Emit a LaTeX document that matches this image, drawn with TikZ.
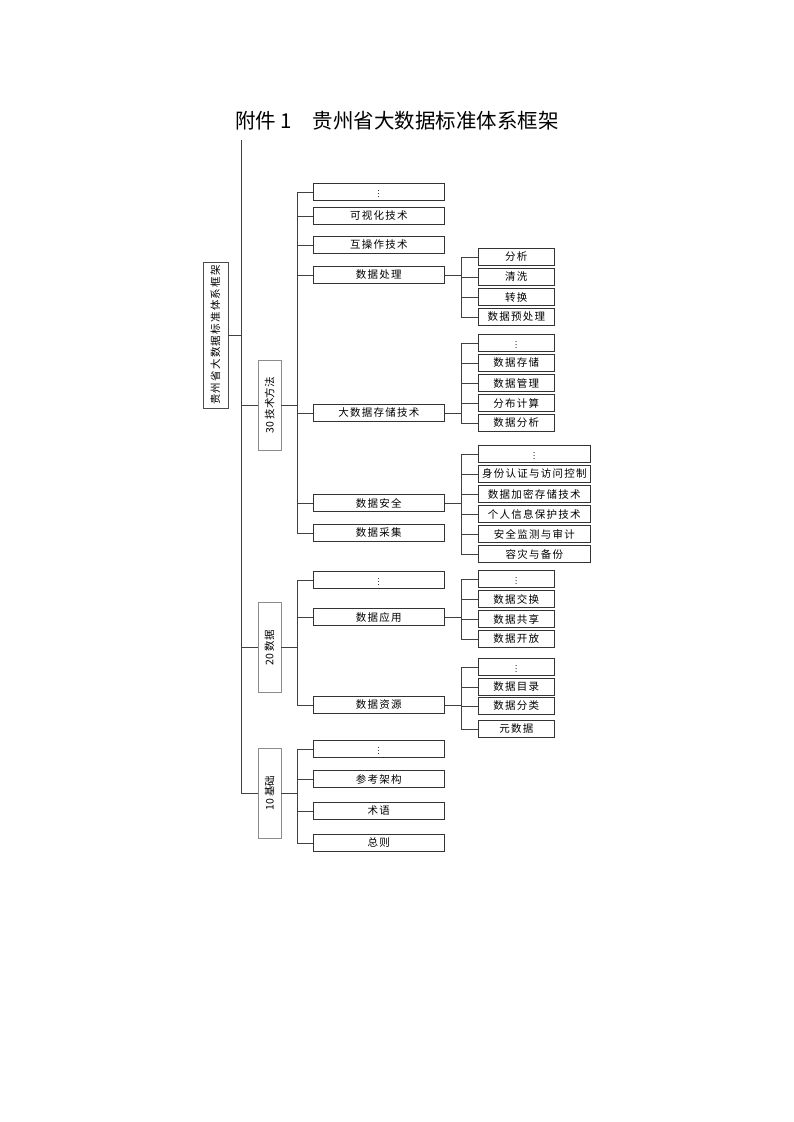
\documentclass[tikz,border=0pt]{standalone}
\usepackage{fontspec}
\setmainfont{Liberation Serif}
\newfontfamily\cjk{Noto Sans CJK SC}
\newfontfamily\cjks[LetterSpace=12]{Noto Sans CJK SC}
\usepackage{graphicx}
\begin{document}
\begin{tikzpicture}[x=1pt,y=-1pt,line width=0.6pt,
  every node/.style={font=\cjks\fontsize{10.5}{12}\selectfont,inner sep=0pt},
  bx/.style={draw=black!80,fill=white,minimum height=17pt},
  ltwo/.style={bx,minimum width=131pt,anchor=west},
  lthree/.style={bx,minimum width=76pt,anchor=west},
  lthreew/.style={bx,minimum width=112pt,anchor=west},
  lone/.style={draw=black!45,minimum width=23pt,minimum height=90pt,font=\cjk\fontsize{10.5}{12}\selectfont},
  ln/.style={draw=black!75},
]
\useasboundingbox (0,0) rectangle (793,1122);
\newcommand{\vd}{\scalebox{0.75}{$\vdots$}}

% title
\node[font=\cjk\fontsize{20.5}{24}\selectfont] (title) at (397,121) {附件 1\quad 贵州省大数据标准体系框架};

% root
\node[draw=black!70,minimum width=25pt,minimum height=146pt] (root) at (215.5,335)
  {\rotatebox{90}{贵州省大数据标准体系框架}};

% main vertical line
\coordinate (mtop) at (241,140);
\coordinate (mbot) at (241,793);
\draw[ln] (mtop) -- (mbot);
\draw[ln] (root.east) -- (root.east -| mtop);

% level 1
\node[lone] (t30) at (269.5,405) {\rotatebox{90}{30\ 技术方法}};
\node[lone] (d20) at (269.5,647.5) {\rotatebox{90}{20\ 数据}};
\node[lone] (j10) at (269.5,793) {\rotatebox{90}{10\ 基础}};
\foreach \n in {t30,d20,j10} \draw[ln] (\n.west -| mtop) -- (\n.west);

% buses for level 2
\coordinate (bta) at (297,192); \coordinate (btb) at (297,533);
\coordinate (bda) at (297,580); \coordinate (bdb) at (297,705);
\coordinate (bja) at (297,749); \coordinate (bjb) at (297,843);
\draw[ln] (bta) -- (btb);
\draw[ln] (bda) -- (bdb);
\draw[ln] (bja) -- (bjb);
\draw[ln] (t30.east) -- (t30.east -| bta);
\draw[ln] (d20.east) -- (d20.east -| bda);
\draw[ln] (j10.east) -- (j10.east -| bja);

% level 2: technology
\node[ltwo] (ta) at (313,192) {\vd};
\node[ltwo] (tb) at (313,216) {可视化技术};
\node[ltwo] (tc) at (313,245) {互操作技术};
\node[ltwo] (td) at (313,275) {数据处理};
\node[ltwo] (te) at (313,413) {大数据存储技术};
\node[ltwo] (tf) at (313,503) {数据安全};
\node[ltwo] (tg) at (313,533) {数据采集};
\foreach \n in {ta,tb,tc,td,te,tf,tg} \draw[ln] (\n.west -| bta) -- (\n.west);

% level 2: data
\node[ltwo] (da) at (313,580) {\vd};
\node[ltwo] (db) at (313,617) {数据应用};
\node[ltwo] (dc) at (313,705) {数据资源};
\foreach \n in {da,db,dc} \draw[ln] (\n.west -| bda) -- (\n.west);

% level 2: basics
\node[ltwo] (ja) at (313,749) {\vd};
\node[ltwo] (jb) at (313,779) {参考架构};
\node[ltwo] (jc) at (313,811) {术语};
\node[ltwo] (jd) at (313,843) {总则};
\foreach \n in {ja,jb,jc,jd} \draw[ln] (\n.west -| bja) -- (\n.west);

% level 3 under 数据处理
\coordinate (pa) at (461,257); \coordinate (pb) at (461,317);
\draw[ln] (pa) -- (pb);
\draw[ln] (td.east) -- (td.east -| pa);
\node[lthree] (p1) at (478,257) {分析};
\node[lthree] (p2) at (478,277) {清洗};
\node[lthree] (p3) at (478,297) {转换};
\node[lthree] (p4) at (478,317) {数据预处理};
\foreach \n in {p1,p2,p3,p4} \draw[ln] (\n.west -| pa) -- (\n.west);

% level 3 under 大数据存储技术
\coordinate (sa) at (461,343); \coordinate (sb) at (461,423);
\draw[ln] (sa) -- (sb);
\draw[ln] (te.east) -- (te.east -| sa);
\node[lthree] (s1) at (478,343) {\vd};
\node[lthree] (s2) at (478,363) {数据存储};
\node[lthree] (s3) at (478,383) {数据管理};
\node[lthree] (s4) at (478,403) {分布计算};
\node[lthree] (s5) at (478,423) {数据分析};
\foreach \n in {s1,s2,s3,s4,s5} \draw[ln] (\n.west -| sa) -- (\n.west);

% level 3 under 数据安全
\coordinate (aa) at (461,454); \coordinate (ab) at (461,554);
\draw[ln] (aa) -- (ab);
\draw[ln] (tf.east) -- (tf.east -| aa);
\node[lthreew] (a1) at (478,454) {\vd};
\node[lthreew] (a2) at (478,474) {身份认证与访问控制};
\node[lthreew] (a3) at (478,494) {数据加密存储技术};
\node[lthreew] (a4) at (478,514) {个人信息保护技术};
\node[lthreew] (a5) at (478,534) {安全监测与审计};
\node[lthreew] (a6) at (478,554) {容灾与备份};
\foreach \n in {a1,a2,a3,a4,a5,a6} \draw[ln] (\n.west -| aa) -- (\n.west);

% level 3 under 数据应用
\coordinate (ya) at (461,579); \coordinate (yb) at (461,639);
\draw[ln] (ya) -- (yb);
\draw[ln] (db.east) -- (db.east -| ya);
\node[lthree] (y1) at (478,579) {\vd};
\node[lthree] (y2) at (478,599) {数据交换};
\node[lthree] (y3) at (478,619) {数据共享};
\node[lthree] (y4) at (478,639) {数据开放};
\foreach \n in {y1,y2,y3,y4} \draw[ln] (\n.west -| ya) -- (\n.west);

% level 3 under 数据资源
\coordinate (ra) at (461,667); \coordinate (rb) at (461,729);
\draw[ln] (ra) -- (rb);
\draw[ln] (dc.east) -- (dc.east -| ra);
\node[lthree] (r1) at (478,667) {\vd};
\node[lthree] (r2) at (478,687) {数据目录};
\node[lthree] (r3) at (478,706) {数据分类};
\node[lthree] (r4) at (478,729) {元数据};
\foreach \n in {r1,r2,r3,r4} \draw[ln] (\n.west -| ra) -- (\n.west);
\end{tikzpicture}
\end{document}
